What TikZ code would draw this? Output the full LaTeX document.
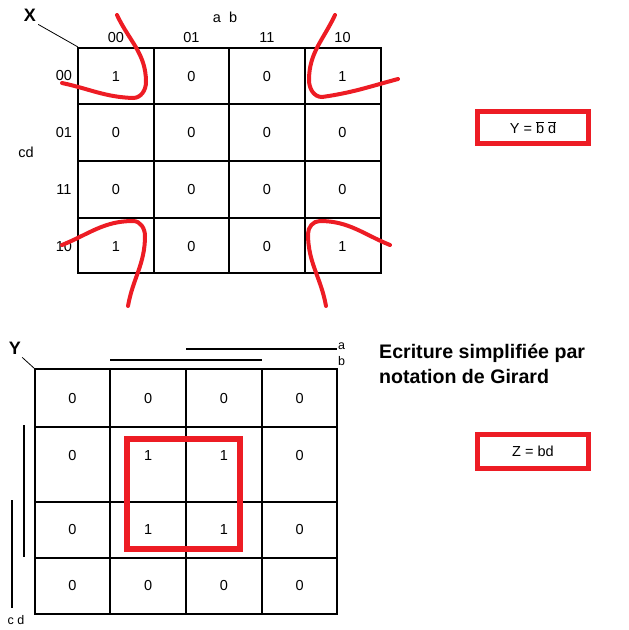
\documentclass[tikz,border=0pt]{standalone}
\usepackage{fontspec}
\setmainfont{Liberation Sans}
\definecolor{kred}{RGB}{237,28,36}

\begin{document}
\begin{tikzpicture}[x=1pt, y=-1pt,
  every node/.style={inner sep=0pt, font=\fontsize{14.5}{17}\selectfont},
  gridline/.style={line width=2pt, line cap=rect},
  barline/.style={line width=2pt},
  loopline/.style={kred, line width=4pt, line cap=round},
  resultbox/.style={draw=kred, line width=5pt, minimum width=111pt, minimum height=32pt},
  maplabel/.style={font=\fontsize{18}{20}\selectfont\bfseries}]
  \useasboundingbox (0,0) rectangle (629,630);

  % Top map X: grid
  \draw[gridline] (78,48) rectangle (381,273);
  \foreach \x in {154,229,305} \draw[gridline] (\x,48) -- (\x,273);
  \foreach \y in {104,161,218} \draw[gridline] (78,\y) -- (381,\y);

  % Top map X: headings
  \node[maplabel] (lblX) at (30,15) {X};
  \coordinate (cornerX) at (78,47);
  \draw[line width=0.8pt] (lblX.south east) ++(2,3) -- (cornerX);
  \node (ab) at (225,17) {a\ \ b};
  \node (cd) at (26,152) {cd};
  \foreach \t [count=\c] in {00,01,11,10}
    \node (colX\c) at ({40.5+75.5*\c},38) {\t};
  \foreach \t [count=\r] in {00,01,11,10}
    \node (rowX\r) at (64,{19.3+56.7*\r}) {\t};

  % Top map X: cells
  \foreach \r/\vals in {1/{1,0,0,1},2/{0,0,0,0},3/{0,0,0,0},4/{1,0,0,1}}
    \foreach \v [count=\c] in \vals
      \node (x\r\c) at ({40.5+75.5*\c},{19.5+56.7*\r}) {\v};

  % Top map X: the four corners grouped
  \draw[loopline] (117,15) to[out=-65,in=90] (146,82) to[out=-90,in=0] (133,98)
    to[out=178,in=-12] (62,83);
  \draw[loopline] (335,15) to[out=-115,in=90] (309,80) to[out=-90,in=180] (322,97)
    to[out=8,in=-165] (398,79);
  \draw[loopline] (62,245) to[out=22,in=180] (133,221) to[out=0,in=90] (145,236)
    to[out=-90,in=80] (128,306);
  \draw[loopline] (390,245) to[out=158,in=0] (320,221) to[out=180,in=90] (308,234)
    to[out=-90,in=100] (326,306);

  % Result of X
  \node[resultbox] (resY) at (533,127.5)
    {Y = $\overline{\mbox{b}}\;\overline{\mbox{d}}$};

  % Bottom map Y: grid
  \draw[gridline] (35,369) rectangle (337,614);
  \foreach \x in {110,186,262} \draw[gridline] (\x,369) -- (\x,614);
  \foreach \y in {427,502,558} \draw[gridline] (35,\y) -- (337,\y);

  % Bottom map Y: Girard bars
  \node[maplabel] (lblY) at (15,348) {Y};
  \coordinate (cornerY) at (35,369);
  \draw[line width=0.8pt] (lblY.south east) ++(1,3) -- (cornerY);
  \node[anchor=west] (lblA) at (338,346) {\fontsize{12.5}{14}\selectfont a};
  \node[anchor=west] (lblB) at (338,361) {\fontsize{12.5}{14}\selectfont b};
  \coordinate (aL) at (186,349);
  \coordinate (aR) at (337,349);
  \coordinate (bL) at (110,360);
  \coordinate (bR) at (262,360);
  \draw[barline] (aL) -- (aR);
  \draw[barline] (bL) -- (bR);
  \node (lblCD) at (16,620) {\fontsize{12.5}{14}\selectfont c d};
  \coordinate (dT) at (24,425);
  \coordinate (dB) at (24,557);
  \coordinate (cT) at (12,500);
  \coordinate (cB) at (12,608);
  \draw[barline] (dT) -- (dB);
  \draw[barline] (cT) -- (cB);

  % Bottom map Y: cells
  \foreach \r/\y/\vals in {1/399/{0,0,0,0},2/456/{0,1,1,0},3/530/{0,1,1,0},4/586/{0,0,0,0}}
    \foreach \v [count=\c] in \vals
      \node (y\r\c) at ({-3.2+75.7*\c},\y) {\v};

  % Bottom map Y: group of four
  \draw[kred, line width=6pt] (127,439) rectangle (240,549);

  % Comment and result of Y
  \node[anchor=base west, font=\fontsize{19.6}{22}\selectfont\bfseries] (note1) at (379,358)
    {Ecriture simplifiée par};
  \node[anchor=base west, font=\fontsize{19.6}{22}\selectfont\bfseries] (note2) at (379,383)
    {notation de Girard};
  \node[resultbox, minimum height=34pt] (resZ) at (533,451.5) {Z = bd};
\end{tikzpicture}
\end{document}
